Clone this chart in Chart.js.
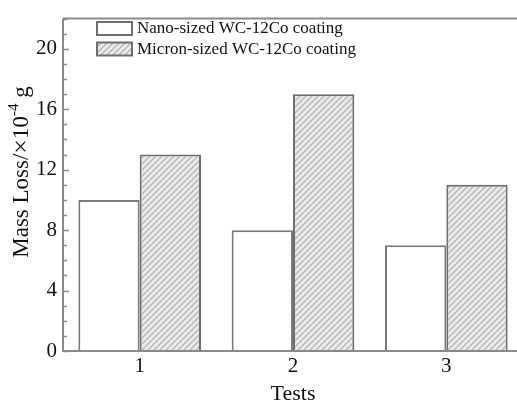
<!DOCTYPE html>
<html>
<head>
<meta charset="utf-8">
<script src="https://cdn.jsdelivr.net/npm/chart.js@4"></script>
<style>
html,body{margin:0;padding:0;background:#fff;overflow:hidden;}
#wrap{position:absolute;left:0;top:0;width:523px;height:407px;}
</style>
</head>
<body>
<div id="wrap"><canvas id="c" width="523" height="407"></canvas></div>
<script>
const categories = ['1', '2', '3'];
const seriesNames = ['Nano-sized WC-12Co coating', 'Micron-sized WC-12Co coating'];
const nanoValues = [10, 8, 7];
const micronValues = [13, 17, 11];
const yTicks = [0, 4, 8, 12, 16, 20];
const xTitle = 'Tests';
const yTitleParts = ['Mass Loss/', '\u00D7', '10', '-4', ' g'];

function hatch() {
  const p = document.createElement('canvas');
  p.width = 6; p.height = 6;
  const g = p.getContext('2d');
  g.fillStyle = '#ebebeb';
  g.fillRect(0, 0, 6, 6);
  g.strokeStyle = '#b4b4b4';
  g.lineWidth = 1.3;
  g.beginPath();
  g.moveTo(-1, 7); g.lineTo(7, -1);
  g.moveTo(-4, 4); g.lineTo(4, -4);
  g.moveTo(2, 10); g.lineTo(10, 2);
  g.stroke();
  return document.getElementById('c').getContext('2d').createPattern(p, 'repeat');
}
const hatchFill = hatch();
const serif = "'Liberation Serif', 'DejaVu Serif', serif";

const framePlugin = {
  id: 'frame',
  afterDraw(chart) {
    const ctx = chart.ctx, a = chart.chartArea, y = chart.scales.y;
    ctx.save();
    ctx.strokeStyle = '#8a8a8a';
    ctx.lineWidth = 2;
    ctx.beginPath();
    ctx.moveTo(a.left, a.top); ctx.lineTo(a.right + 5, a.top);
    ctx.moveTo(a.left, a.top); ctx.lineTo(a.left, a.bottom);
    ctx.moveTo(a.left - 1, a.bottom); ctx.lineTo(a.right + 5, a.bottom);
    ctx.stroke();
    ctx.lineWidth = 1.5;
    ctx.beginPath();
    for (let v = y.min; v <= y.max; v += 1) {
      const py = Math.round(y.getPixelForValue(v)) + 0.5;
      const len = (v % 4 === 0) ? 6 : 4;
      ctx.moveTo(a.left, py); ctx.lineTo(a.left + len, py);
    }
    ctx.stroke();
    // legend
    const ds = chart.data.datasets;
    ctx.font = '17px ' + serif;
    ctx.textBaseline = 'middle';
    ds.forEach((d, i) => {
      const bx = 97, by = 22 + i * 20.5, bw = 35, bh = 13;
      ctx.fillStyle = d.backgroundColor;
      ctx.fillRect(bx, by, bw, bh);
      ctx.strokeStyle = '#6e6e6e';
      ctx.lineWidth = 2;
      ctx.strokeRect(bx, by, bw, bh);
      ctx.fillStyle = '#111';
      ctx.fillText(d.label, 137, by + bh / 2 + 0.5);
    });
    // y title (rotated, with superscript)
    ctx.translate(21, 172);
    ctx.rotate(-Math.PI / 2);
    ctx.textBaseline = 'middle';
    ctx.fillStyle = '#111';
    const fonts = ['23px ', '26px ', '23px ', '15px ', '23px '];
    const dy = [0, 0, 0, -8, 0];
    let total = 0;
    yTitleParts.forEach((t, i) => { ctx.font = fonts[i] + serif; total += ctx.measureText(t).width; });
    let x = -total / 2;
    yTitleParts.forEach((t, i) => {
      ctx.font = fonts[i] + serif;
      ctx.fillText(t, x, dy[i] + 1);
      x += ctx.measureText(t).width;
    });
    ctx.restore();
  }
};

new Chart(document.getElementById('c'), {
  type: 'bar',
  data: {
    labels: categories,
    datasets: [
      { label: seriesNames[0], data: nanoValues, backgroundColor: '#ffffff', borderColor: '#7a7a7a', borderWidth: 2 },
      { label: seriesNames[1], data: micronValues, backgroundColor: hatchFill, borderColor: '#6e6e6e', borderWidth: 2 }
    ]
  },
  options: {
    responsive: false,
    animation: false,
    devicePixelRatio: 1,
    layout: { padding: { top: 11, right: 0, left: 0, bottom: 0 } },
    datasets: { bar: { categoryPercentage: 0.8, barPercentage: 1.0 } },
    plugins: { legend: { display: false }, tooltip: { enabled: false } },
    scales: {
      x: {
        grid: { display: false, drawTicks: false },
        border: { display: false },
        ticks: { color: '#111', font: { family: serif, size: 21 }, padding: 3 },
        title: { display: true, text: xTitle, color: '#111', font: { family: serif, size: 22 }, padding: { top: 3, bottom: 0 } },
        afterFit(s) { s.height = 56; }
      },
      y: {
        min: 0, max: 22,
        afterBuildTicks(s) { s.ticks = yTicks.map(v => ({ value: v })); },
        grid: { display: false, drawTicks: false },
        border: { display: false },
        ticks: { color: '#111', font: { family: serif, size: 21 }, padding: 6 },
        afterFit(s) { s.width = 63; }
      }
    }
  },
  plugins: [framePlugin]
});
</script>
</body>
</html>
